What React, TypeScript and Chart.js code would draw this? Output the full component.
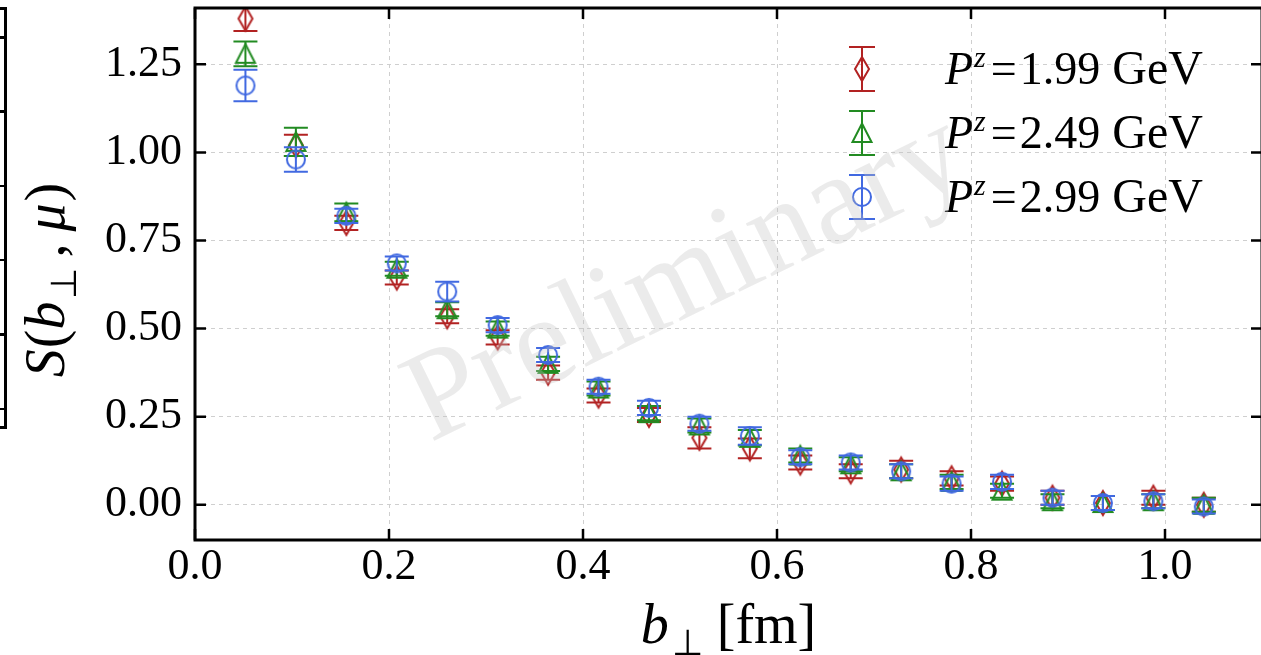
import React, { useEffect, useRef } from "react";
import { Chart, registerables } from "chart.js";

Chart.register(...registerables);

// ---- data ----
const bPerp = [0.052, 0.104, 0.156, 0.208, 0.26, 0.312, 0.364, 0.416, 0.468, 0.52, 0.572, 0.624, 0.676, 0.728, 0.78, 0.832, 0.884, 0.936, 0.988, 1.04];

const s199 = [1.38, 1.02, 0.8, 0.645, 0.535, 0.475, 0.375, 0.31, 0.255, 0.19, 0.16, 0.12, 0.095, 0.1, 0.075, 0.06, 0.02, 0.005, 0.02, 0.0];
const e199 = [0.035, 0.03, 0.02, 0.02, 0.02, 0.02, 0.02, 0.02, 0.02, 0.03, 0.028, 0.02, 0.02, 0.025, 0.02, 0.02, 0.02, 0.02, 0.02, 0.02];

const s249 = [1.28, 1.03, 0.83, 0.67, 0.555, 0.5, 0.4, 0.33, 0.26, 0.225, 0.19, 0.14, 0.115, 0.095, 0.065, 0.04, 0.01, 0.005, 0.01, 0.0];
const e249 = [0.035, 0.04, 0.025, 0.02, 0.02, 0.02, 0.02, 0.02, 0.02, 0.02, 0.022, 0.02, 0.02, 0.02, 0.02, 0.02, 0.02, 0.02, 0.02, 0.02];

const s299 = [1.19, 0.98, 0.82, 0.685, 0.605, 0.51, 0.425, 0.335, 0.275, 0.23, 0.195, 0.135, 0.12, 0.095, 0.06, 0.065, 0.02, 0.005, 0.01, -0.005];
const e299 = [0.045, 0.035, 0.02, 0.02, 0.028, 0.02, 0.02, 0.02, 0.02, 0.02, 0.025, 0.02, 0.02, 0.02, 0.02, 0.02, 0.02, 0.02, 0.02, 0.02];

const momenta = ["1.99", "2.49", "2.99"];
const seriesColors = ["#b22222", "#228b22", "#4169e1"];
const markerKinds = ["thinDiamond", "triangle", "circle"];

const xTickStep = 0.2;
const yTickStep = 0.25;

const SERIF = '"Liberation Serif", "Times New Roman", serif';

function makeMarker(kind: string, color: string): HTMLCanvasElement {
  const c = document.createElement("canvas");
  c.width = 30;
  c.height = 30;
  const g = c.getContext("2d")!;
  g.strokeStyle = color;
  g.lineWidth = 2;
  g.lineJoin = "miter";
  g.beginPath();
  if (kind === "thinDiamond") {
    g.moveTo(15, 3);
    g.lineTo(22, 15);
    g.lineTo(15, 27);
    g.lineTo(8, 15);
    g.closePath();
  } else if (kind === "triangle") {
    g.moveTo(15, 5.5);
    g.lineTo(24.5, 24);
    g.lineTo(5.5, 24);
    g.closePath();
  } else {
    g.arc(15, 15, 9, 0, Math.PI * 2);
  }
  g.stroke();
  return c;
}

type Piece = { t: string; font: string; dy?: number; gap?: number };

function drawPieces(ctx: CanvasRenderingContext2D, pieces: Piece[], startX: number, baseY: number) {
  let x = startX;
  for (const p of pieces) {
    x += p.gap || 0;
    ctx.font = p.font;
    ctx.fillText(p.t, x, baseY + (p.dy || 0));
    x += ctx.measureText(p.t).width;
  }
  return x;
}

function piecesWidth(ctx: CanvasRenderingContext2D, pieces: Piece[]) {
  let w = 0;
  for (const p of pieces) {
    ctx.font = p.font;
    w += (p.gap || 0) + ctx.measureText(p.t).width;
  }
  return w;
}

const errorBarPlugin = {
  id: "errorBars",
  beforeDatasetDraw(chart: any, args: any) {
    const ds = chart.data.datasets[args.index];
    const errs: number[] = ds.errors;
    if (!errs) return;
    const { ctx, chartArea } = chart;
    const xs = chart.scales.x;
    const ys = chart.scales.y;
    ctx.save();
    ctx.beginPath();
    ctx.rect(chartArea.left, chartArea.top, chartArea.right - chartArea.left, chartArea.bottom - chartArea.top);
    ctx.clip();
    ctx.strokeStyle = ds.borderColor;
    ctx.lineWidth = 2;
    ds.data.forEach((p: any, i: number) => {
      const px = xs.getPixelForValue(p.x);
      const top = ys.getPixelForValue(p.y + errs[i]);
      const bot = ys.getPixelForValue(p.y - errs[i]);
      ctx.beginPath();
      ctx.moveTo(px, top);
      ctx.lineTo(px, bot);
      ctx.moveTo(px - 12, top);
      ctx.lineTo(px + 12, top);
      ctx.moveTo(px - 12, bot);
      ctx.lineTo(px + 12, bot);
      ctx.stroke();
    });
    ctx.restore();
  },
};

const decorPlugin = {
  id: "decor",
  afterDraw(chart: any) {
    const { ctx, chartArea: ca } = chart;
    const xs = chart.scales.x;
    const ys = chart.scales.y;
    if (!xs || !ys) return;
    ctx.save();
    // inward ticks
    ctx.strokeStyle = "#000";
    ctx.lineWidth = 2.5;
    ctx.beginPath();
    xs.ticks.forEach((t: any) => {
      const px = xs.getPixelForValue(t.value);
      ctx.moveTo(px, ca.bottom);
      ctx.lineTo(px, ca.bottom - 11);
      ctx.moveTo(px, ca.top);
      ctx.lineTo(px, ca.top + 11);
    });
    ys.ticks.forEach((t: any) => {
      const py = ys.getPixelForValue(t.value);
      ctx.moveTo(ca.left, py);
      ctx.lineTo(ca.left + 11, py);
      ctx.moveTo(ca.right, py);
      ctx.lineTo(ca.right - 11, py);
    });
    ctx.stroke();
    // frame
    ctx.lineWidth = 3;
    ctx.strokeRect(ca.left, ca.top, ca.right - ca.left, ca.bottom - ca.top);

    // legend
    ctx.fillStyle = "#000";
    ctx.textBaseline = "alphabetic";
    ctx.textAlign = "left";
    momenta.forEach((m, i) => {
      const ds = chart.data.datasets[i];
      const cy = ca.top + 61 + i * 64;
      const mx = ca.left + 667;
      ctx.strokeStyle = seriesColors[i];
      ctx.lineWidth = 2;
      ctx.beginPath();
      ctx.moveTo(mx, cy - 22);
      ctx.lineTo(mx, cy + 22);
      ctx.moveTo(mx - 13, cy - 22);
      ctx.lineTo(mx + 13, cy - 22);
      ctx.moveTo(mx - 13, cy + 22);
      ctx.lineTo(mx + 13, cy + 22);
      ctx.stroke();
      if (ds && ds.pointStyle instanceof HTMLCanvasElement) {
        ctx.drawImage(ds.pointStyle, mx - 15, cy - 15);
      }
      ctx.fillStyle = "#000";
      drawPieces(
        ctx,
        [
          { t: "P", font: `italic 46px ${SERIF}` },
          { t: "z", font: `italic 30px ${SERIF}`, dy: -17, gap: 1 },
          { t: "=", font: `46px ${SERIF}`, gap: 5 },
          { t: m, font: `46px ${SERIF}`, gap: 3 },
          { t: "GeV", font: `48px ${SERIF}`, gap: 12 },
        ],
        ca.left + 750,
        cy + 15
      );
    });

    // x title
    const xPieces: Piece[] = [
      { t: "b", font: `italic 56px ${SERIF}` },
      { t: "\u22A5", font: `36px ${SERIF}`, dy: 12, gap: 3 },
      { t: "[fm]", font: `56px ${SERIF}`, gap: 14 },
    ];
    const xw = piecesWidth(ctx, xPieces);
    drawPieces(ctx, xPieces, (ca.left + ca.right) / 2 - xw / 2, ca.bottom + 103);

    // y title
    const yPieces: Piece[] = [
      { t: "S", font: `italic 56px ${SERIF}` },
      { t: "(", font: `56px ${SERIF}`, gap: 1 },
      { t: "b", font: `italic 56px ${SERIF}` },
      { t: "\u22A5", font: `36px ${SERIF}`, dy: 12, gap: 3 },
      { t: ",", font: `56px ${SERIF}`, gap: 10 },
      { t: "\u03BC", font: `italic 56px ${SERIF}`, gap: 12 },
      { t: ")", font: `56px ${SERIF}`, gap: 2 },
    ];
    const yw = piecesWidth(ctx, yPieces);
    ctx.save();
    ctx.translate(ca.left - 131, (ca.top + ca.bottom) / 2 + 6);
    ctx.rotate(-Math.PI / 2);
    drawPieces(ctx, yPieces, -yw / 2, 0);
    ctx.restore();

    // watermark
    ctx.save();
    ctx.translate(ca.left + 492, ca.top + 272);
    ctx.rotate((-26 * Math.PI) / 180);
    ctx.font = `128px ${SERIF}`;
    ctx.textAlign = "center";
    ctx.textBaseline = "middle";
    ctx.fillStyle = "rgba(195,195,195,0.33)";
    ctx.fillText("Preliminary", 0, 0);
    ctx.restore();

    ctx.restore();
  },
};

const fragmentTickIdx = [0, 1, 2, 3, 4, 5];

export default function App() {
  const ref = useRef<HTMLCanvasElement>(null);

  useEffect(() => {
    document.body.style.margin = "0";
    document.body.style.overflow = "hidden";
    const canvas = ref.current!;
    const markers = markerKinds.map((k, i) => makeMarker(k, seriesColors[i]));
    const values = [s199, s249, s299];
    const errors = [e199, e249, e299];

    const datasets: any[] = values.map((vals, i) => ({
      label: `P^z = ${momenta[i]} GeV`,
      data: bPerp.map((b, j) => ({ x: b, y: vals[j] })),
      errors: errors[i],
      pointStyle: markers[i],
      pointRadius: 1,
      pointHoverRadius: 0,
      pointBorderWidth: 0,
      borderWidth: 0,
      borderColor: seriesColors[i],
      backgroundColor: "transparent",
      showLine: false,
      order: 3 - i,
      clip: 0,
    }));

    const chart: any = new Chart(canvas, {
      type: "scatter",
      data: { datasets },
      plugins: [errorBarPlugin, decorPlugin],
      options: {
        animation: false,
        responsive: false,
        devicePixelRatio: 1,
        events: [],
        layout: { padding: { top: 8, right: 3, left: 0, bottom: 0 } },
        plugins: { legend: { display: false }, tooltip: { enabled: false } },
        scales: {
          x: {
            type: "linear",
            min: 0,
            max: 1.1,
            border: { display: false, dash: [4, 4] },
            grid: { color: "#cfcfcf", lineWidth: 1, drawTicks: false },
            ticks: {
              stepSize: xTickStep,
              includeBounds: false,
              padding: 1,
              color: "#000",
              font: { family: SERIF, size: 44 },
              maxRotation: 0,
              callback: (v: any) => Number(v).toFixed(1),
            },
            afterFit: (s: any) => {
              s.height = 115;
              s.paddingLeft = 0;
              s.paddingRight = 0;
            },
          },
          y: {
            type: "linear",
            min: -0.1,
            max: 1.41,
            border: { display: false, dash: [4, 4] },
            grid: { color: "#cfcfcf", lineWidth: 1, drawTicks: false },
            ticks: {
              stepSize: yTickStep,
              includeBounds: false,
              padding: 13,
              color: "#000",
              font: { family: SERIF, size: 44 },
              callback: (v: any) => Number(v).toFixed(2),
            },
            afterFit: (s: any) => {
              s.width = 195;
              s.paddingTop = 0;
              s.paddingBottom = 0;
            },
          },
        },
      } as any,
    });
    return () => chart.destroy();
  }, []);

  return (
    <div style={{ position: "fixed", left: 0, top: 0, width: 1261, height: 655, overflow: "hidden", background: "#fff" }}>
      <div
        style={{
          position: "absolute",
          left: -20,
          top: 7,
          width: 24,
          height: 416,
          borderTop: "3px solid #000",
          borderRight: "3px solid #000",
          borderBottom: "3px solid #000",
        }}
      />
      {fragmentTickIdx.map((i) => (
        <div
          key={i}
          style={{ position: "absolute", left: 0, top: 36 + i * 74.3, width: 6, height: 2.5, background: "#000" }}
        />
      ))}
      <canvas ref={ref} width={1265} height={655} style={{ position: "absolute", left: 0, top: 0 }} />
    </div>
  );
}
